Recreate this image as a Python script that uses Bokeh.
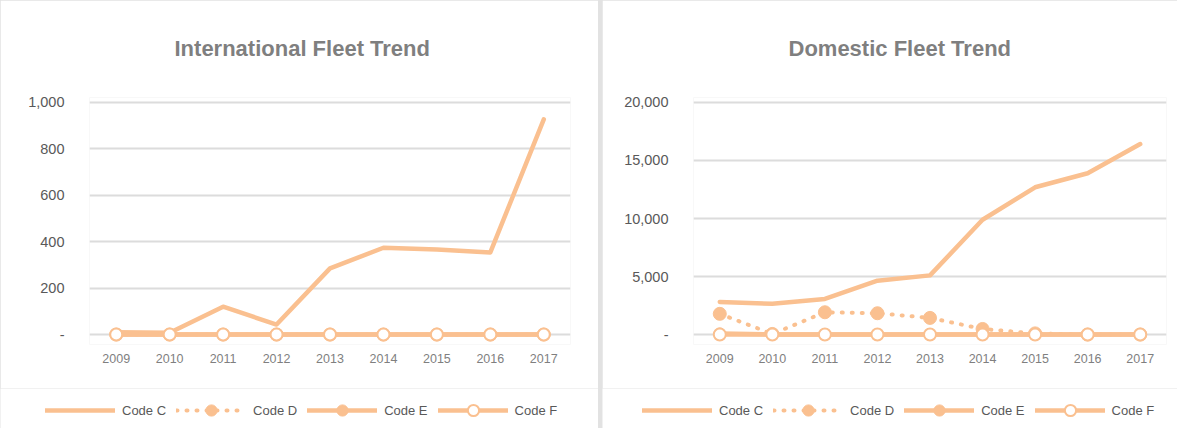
from bokeh.plotting import figure
from bokeh.layouts import row, column
from bokeh.models import (Range1d, FactorRange, FixedTicker, CustomJSTickFormatter,
                          Legend, LegendItem)
from bokeh.embed import file_html
from bokeh.resources import INLINE

years = ["2009", "2010", "2011", "2012", "2013", "2014", "2015", "2016", "2017"]
series_names = ["Code C", "Code D", "Code E", "Code F"]

intl_code_c = [10, 8, 120, 43, 285, 374, 366, 354, 927]
intl_code_d = [0, 0, 0, 0, 0, 0, 0, 0, 0]
intl_code_e = [0, 0, 0, 0, 0, 0, 0, 0, 0]
intl_code_f = [0, 0, 0, 0, 0, 0, 0, 0, 0]
intl_ticks = [0, 200, 400, 600, 800, 1000]

dom_code_c = [2815, 2650, 3070, 4640, 5100, 9890, 12690, 13900, 16420]
dom_code_d = [1785, 50, 1920, 1835, 1435, 480, 100, 0, 0]
dom_code_e = [100, 0, 0, 0, 0, 0, 0, 0, 0]
dom_code_f = [0, 0, 0, 0, 0, 0, 0, 0, 0]
dom_ticks = [0, 5000, 10000, 15000, 20000]

COL = "#FAC090"
FONT = "Liberation Sans"


def add_series(p, x, c, d, e, f):
    rc = p.line(x, c, line_color=COL, line_width=4.5, line_cap="round", line_join="round")
    rd = p.line(x, d, line_color=COL, line_width=4, line_dash="1 9", line_cap="round")
    rdm = p.scatter(x, d, size=13, fill_color=COL, line_color=COL)
    re_ = p.line(x, e, line_color=COL, line_width=4.5, line_cap="round")
    rem = p.scatter(x, e, size=11, fill_color=COL, line_color=COL)
    rf = p.line(x, f, line_color=COL, line_width=4.5, line_cap="round")
    rfm = p.scatter(x, f, size=12, fill_color="white", line_color=COL, line_width=2)
    return [[rc], [rd, rdm], [re_, rem], [rf, rfm]]


def make_chart(title, c, d, e, f, ticks, ymax, width, bl, br, title_offset):
    px_per_unit = 233.0 / ymax
    top = ymax + 5.0 / px_per_unit
    start = -10.0 / px_per_unit
    p = figure(width=width, height=388, x_range=FactorRange(*years),
               y_range=Range1d(start, top), output_backend="svg",
               toolbar_location=None, min_border_left=bl, min_border_right=br,
               min_border_top=96, min_border_bottom=44)
    p.outline_line_color = None
    p.background_fill_color = "white"
    p.border_fill_color = "white"

    p.title.text = title
    p.title.align = "left"
    p.title.offset = title_offset
    p.title.vertical_align = "top"
    p.title.standoff = 70
    p.title.text_font = FONT
    p.title.text_font_size = "22px"
    p.title.text_font_style = "bold"
    p.title.text_color = "#7F7F7F"

    add_series(p, years, c, d, e, f)

    p.xgrid.grid_line_color = None
    p.ygrid.grid_line_color = "#dcdcdc"
    p.ygrid.grid_line_width = 2

    p.yaxis.ticker = FixedTicker(ticks=ticks)
    p.yaxis.formatter = CustomJSTickFormatter(
        code="return tick == 0 ? '-' : Math.round(tick).toLocaleString('en-US');")
    for ax in (p.xaxis[0], p.yaxis[0]):
        ax.axis_line_color = None
        ax.major_tick_line_color = None
        ax.minor_tick_line_color = None
        ax.major_label_text_font = FONT
    p.yaxis.major_label_text_font_size = "14.5px"
    p.yaxis.major_label_text_color = "#595959"
    p.yaxis.major_label_standoff = 19
    p.xaxis.major_label_text_font_size = "12.5px"
    p.xaxis.major_label_text_color = "#7F7F7F"
    p.xaxis.major_label_standoff = 3
    return p


def make_legend_strip(width, legend_x, c, d, e, f):
    # the same series, drawn out of view: only the legend shows in this strip
    q = figure(width=width, height=40, x_range=FactorRange(*years), y_range=Range1d(-2, -1),
               output_backend="svg", toolbar_location=None,
               x_axis_location=None, y_axis_location=None,
               min_border=0, min_border_left=0, min_border_right=0,
               min_border_top=0, min_border_bottom=0)
    q.outline_line_color = None
    q.grid.visible = False
    q.background_fill_color = "white"
    q.border_fill_color = "white"
    groups = add_series(q, years, c, d, e, f)
    legend = Legend(items=[LegendItem(label=n, renderers=g) for n, g in zip(series_names, groups)],
                    orientation="horizontal", location=(legend_x, 4), glyph_width=70,
                    glyph_height=28, label_standoff=7, spacing=10, padding=0, margin=0,
                    border_line_color=None, background_fill_alpha=0,
                    label_text_font=FONT, label_text_font_size="13px",
                    label_text_color="#595959")
    q.add_layout(legend)
    return q


p1 = make_chart("International Fleet Trend", intl_code_c, intl_code_d, intl_code_e, intl_code_f,
                intl_ticks, 1000, 598, 89, 28, 85)
p2 = make_chart("Domestic Fleet Trend", dom_code_c, dom_code_d, dom_code_e, dom_code_f,
                dom_ticks, 20000, 575, 91, 11, 95)
l1 = make_legend_strip(598, 45, intl_code_c, intl_code_d, intl_code_e, intl_code_f)
l2 = make_legend_strip(575, 40, dom_code_c, dom_code_d, dom_code_e, dom_code_f)

top_row = row(p1, p2, spacing=4, styles={"background-color": "#e2e2e2"})
bottom_row = row(l1, l2, spacing=4, styles={"background-color": "#e2e2e2"})
layout = column(top_row, bottom_row, spacing=0)

open("out.html", "w").write(file_html(layout, INLINE))
